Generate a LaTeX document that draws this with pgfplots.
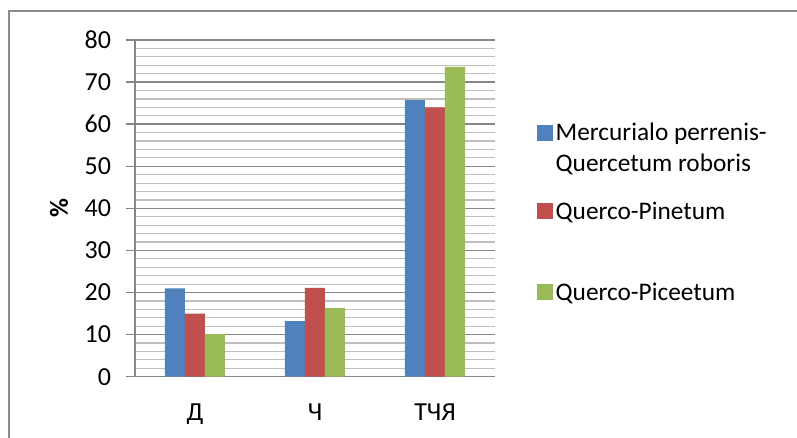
\documentclass[border=0pt]{standalone}
\usepackage{pgfplots}
\pgfplotsset{compat=1.18}
\usepackage{fontspec}
\setmainfont{Carlito}
\definecolor{cblue}{HTML}{4F81BD}
\definecolor{cred}{HTML}{C0504D}
\definecolor{cgreen}{HTML}{9BBB59}
\definecolor{majgrid}{HTML}{868686}
\definecolor{mingrid}{HTML}{BFBFBF}
\definecolor{framec}{HTML}{8C8C8C}
\pgfplotsset{sq/.style={legend image code/.code={\fill[##1] (0pt,0pt) rectangle (12pt,12pt);}}}
\begin{document}
\begin{tikzpicture}
\useasboundingbox (0,0) rectangle (597.75pt,328.5pt);
\draw[framec, line width=0.9pt] (6.75pt,-20pt) rectangle (620pt,320.25pt);
\begin{axis}[
  at={(101.25pt,45.975pt)}, anchor=south west,
  scale only axis, width=270pt, height=252.5pt,
  ybar, bar width=15pt,
  xmin=-0.5, xmax=2.5, ymin=0, ymax=80,
  xtick={0,1,2}, xticklabels={Д,Ч,ТЧЯ},
  ytick={0,10,...,80},
  minor y tick num=4,
  axis x line*=bottom, axis y line*=left,
  axis line style={majgrid, line width=1.1pt},
  ymajorgrids, yminorgrids,
  major grid style={majgrid, line width=1.1pt},
  minor grid style={mingrid, line width=0.9pt},
  tick align=outside,
  major tick length=6.75pt, minor tick length=0pt,
  xtick style={draw=none, /pgfplots/major tick length=0pt},
  ytick style={majgrid, line width=1.1pt},
  tick label style={font=\fontsize{19.5}{23}\selectfont},
  /pgf/number format/assume math mode=true,
  yticklabel style={inner sep=0pt, anchor=east, xshift=-11pt},
  xticklabel style={inner sep=0pt, anchor=north, yshift=-13.5pt},
  ylabel={\bfseries\%},
  every axis y label/.style={at={(axis description cs:-0.2111,0.5)}, rotate=90, anchor=center, font=\fontsize{19.5}{23}\selectfont},
  legend style={at={(1.11667,0.7645)}, anchor=north west, draw=none, fill=none,
    inner sep=0pt, outer sep=0pt, row sep=0pt, column sep=0pt,
    font=\fontsize{19}{23}\selectfont,
    cells={anchor=base west, inner xsep=4.5pt, inner ysep=0pt}},
]
\addplot[fill=cblue, draw=none, bar shift=-15pt, sq] coordinates {(0,21.0) (1,13.2) (2,65.7)};
\addlegendentry[text height=14pt, text depth=5.5pt]{Mercurialo perrenis-}
\addlegendimage{empty legend}
\addlegendentry[text height=14pt, text depth=17.5pt]{Quercetum roboris}
\addplot[fill=cred, draw=none, bar shift=0pt, sq] coordinates {(0,15.0) (1,21.1) (2,64.0)};
\addlegendentry[text height=14pt, text depth=42.8pt]{Querco-Pinetum}
\addplot[fill=cgreen, draw=none, bar shift=15pt, sq] coordinates {(0,10.1) (1,16.3) (2,73.6)};
\addlegendentry[text height=14pt, text depth=5pt]{Querco-Piceetum}
\end{axis}
\end{tikzpicture}
\end{document}
